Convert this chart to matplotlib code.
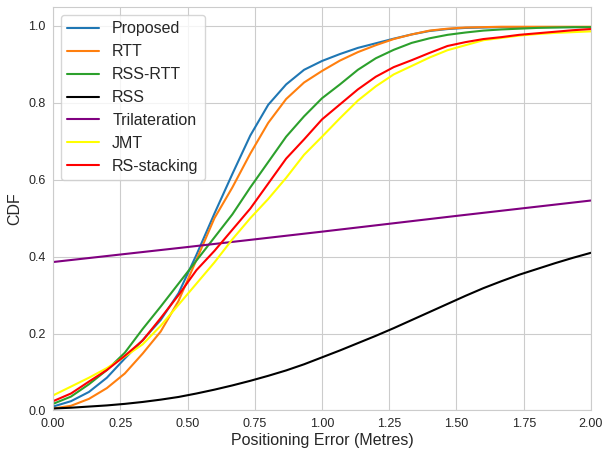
import numpy as np
import matplotlib
matplotlib.use('Agg')
import matplotlib.pyplot as plt
import seaborn as sns

sns.set_style('whitegrid')
plt.rcParams['font.family'] = ['Liberation Sans', 'DejaVu Sans']

# Positioning error grid (metres)
err = np.linspace(0, 2, 31)

proposed = [0.010, 0.024, 0.048, 0.085, 0.135, 0.183, 0.235, 0.305, 0.405, 0.512,
            0.615, 0.715, 0.795, 0.848, 0.886, 0.909, 0.927, 0.943, 0.955, 0.967,
            0.978, 0.987, 0.992, 0.995, 0.996, 0.997, 0.997, 0.997, 0.997, 0.997, 0.997]
rtt = [0.005, 0.012, 0.030, 0.058, 0.096, 0.148, 0.205, 0.285, 0.392, 0.500,
       0.580, 0.668, 0.748, 0.810, 0.853, 0.883, 0.910, 0.932, 0.950, 0.966,
       0.978, 0.988, 0.993, 0.996, 0.997, 0.998, 0.998, 0.998, 0.998, 0.998, 0.998]
rss_rtt = [0.017, 0.036, 0.068, 0.105, 0.150, 0.212, 0.270, 0.330, 0.390, 0.450,
           0.510, 0.580, 0.646, 0.712, 0.765, 0.812, 0.848, 0.886, 0.916, 0.938,
           0.956, 0.968, 0.977, 0.983, 0.988, 0.991, 0.993, 0.995, 0.996, 0.997, 0.997]
rss = [0.005, 0.007, 0.010, 0.013, 0.017, 0.022, 0.028, 0.035, 0.044, 0.054,
       0.065, 0.077, 0.090, 0.104, 0.120, 0.138, 0.156, 0.175, 0.194, 0.214,
       0.235, 0.256, 0.277, 0.298, 0.318, 0.336, 0.353, 0.368, 0.383, 0.397, 0.410]
jmt = [0.039, 0.062, 0.085, 0.110, 0.140, 0.172, 0.220, 0.275, 0.330, 0.385,
       0.445, 0.500, 0.550, 0.605, 0.665, 0.712, 0.760, 0.806, 0.843, 0.874,
       0.896, 0.918, 0.937, 0.950, 0.963, 0.969, 0.975, 0.979, 0.982, 0.984, 0.986]
rs_stacking = [0.024, 0.044, 0.075, 0.105, 0.142, 0.182, 0.240, 0.300, 0.365, 0.415,
               0.470, 0.525, 0.590, 0.655, 0.705, 0.757, 0.796, 0.835, 0.868, 0.893,
               0.911, 0.930, 0.948, 0.958, 0.966, 0.971, 0.977, 0.981, 0.985, 0.989, 0.992]

# Trilateration is almost a straight line, read at a few points
tri_err = [0.0, 0.5, 1.0, 1.5, 2.0]
trilateration = [0.386, 0.425, 0.465, 0.506, 0.546]

fig, ax = plt.subplots(figsize=(6.03, 4.51), dpi=100)

ax.plot(err, proposed, color='tab:blue', lw=1.5, label='Proposed')
ax.plot(err, rtt, color='tab:orange', lw=1.5, label='RTT')
ax.plot(err, rss_rtt, color='tab:green', lw=1.5, label='RSS-RTT')
ax.plot(err, rss, color='black', lw=1.5, label='RSS')
ax.plot(tri_err, trilateration, color='purple', lw=1.5, label='Trilateration')
ax.plot(err, jmt, color='yellow', lw=1.5, label='JMT')
ax.plot(err, rs_stacking, color='red', lw=1.5, label='RS-stacking')

ax.set_xlim(0, 2)
ax.set_ylim(0, 1.05)
ax.set_xticks(np.arange(0, 2.01, 0.25))
ax.xaxis.set_major_formatter(matplotlib.ticker.FormatStrFormatter('%.2f'))
ax.set_yticks(np.arange(0, 1.01, 0.2))
ax.tick_params(labelsize=9, pad=2)
ax.set_xlabel('Positioning Error (Metres)', fontsize=11.5, labelpad=2)
ax.set_ylabel('CDF', fontsize=11.5, labelpad=4)
ax.legend(loc='upper left', fontsize=11.5)

plt.subplots_adjust(left=0.088, right=0.98, bottom=0.09, top=0.985)
plt.savefig('out.png', dpi=100)
